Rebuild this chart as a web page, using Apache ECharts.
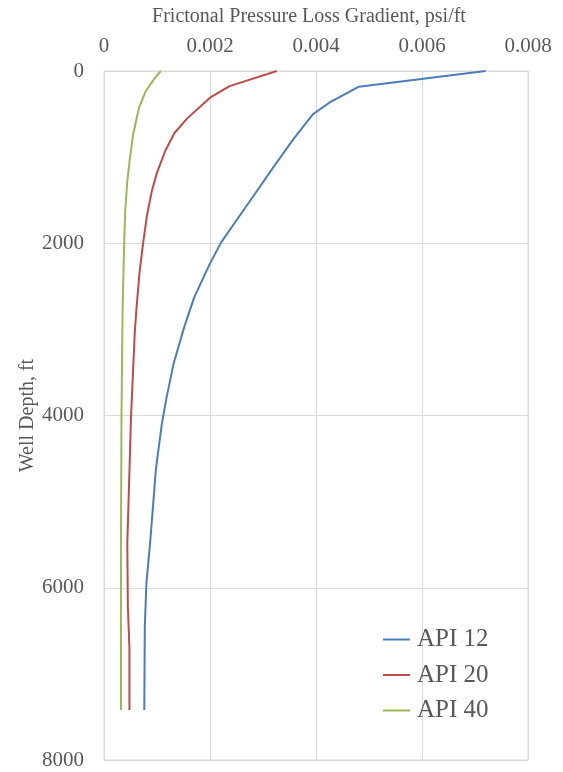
<!DOCTYPE html>
<html>
<head>
<meta charset="utf-8">
<script src="https://cdn.jsdelivr.net/npm/echarts@6/dist/echarts.min.js"></script>
<style>
html,body{margin:0;padding:0;background:#fff;}
#chart{width:563px;height:772px;}
</style>
</head>
<body>
<div id="chart"></div>
<script>
// Data
const seriesNames = ['API 12', 'API 20', 'API 40'];
const api12Depth = [0, 182, 368, 503, 793, 1122, 1451, 1742, 1990, 2260, 2632, 2980, 3406, 3793, 4102, 4620, 5480, 5950, 6450, 7420];
const api12Grad  = [0.0072, 0.00481, 0.00425, 0.00394, 0.00357, 0.00319, 0.00282, 0.00249, 0.00221, 0.00198, 0.00170, 0.00151, 0.00131, 0.00118, 0.00109, 0.00098, 0.00087, 0.00080, 0.00077, 0.00076];
const api20Depth = [0, 176, 310, 550, 720, 920, 1180, 1400, 1680, 1990, 2340, 2780, 3045, 4014, 5480, 6220, 6700, 7420];
const api20Grad  = [0.00326, 0.00237, 0.00200, 0.00157, 0.00133, 0.00116, 0.00100, 0.00090, 0.00081, 0.00074, 0.00067, 0.00061, 0.00058, 0.00051, 0.00044, 0.00045, 0.00048, 0.00048];
const api40Depth = [0, 97, 232, 426, 735, 1006, 1277, 1625, 2012, 2786, 4000, 5500, 7420];
const api40Grad  = [0.00107, 0.00094, 0.00079, 0.00066, 0.00055, 0.00049, 0.00044, 0.00040, 0.00038, 0.00035, 0.00033, 0.00032, 0.00032];
const xTicks = [0, 0.002, 0.004, 0.006, 0.008];
const yTicks = [0, 2000, 4000, 6000, 8000];
const colors = ['#4a7ebb', '#be4b48', '#98b954'];

const pairs = (g, d) => g.map((v, i) => [v, d[i]]);
const seriesData = [pairs(api12Grad, api12Depth), pairs(api20Grad, api20Depth), pairs(api40Grad, api40Depth)];

const font = 'Liberation Serif';
const txt = '#595959';
const chart = echarts.init(document.getElementById('chart'));
chart.setOption({
  animation: false,
  backgroundColor: '#fff',
  title: {
    text: 'Frictonal Pressure Loss Gradient, psi/ft',
    left: 304, top: 2, textAlign: 'center',
    textStyle: {fontFamily: font, fontSize: 20, fontWeight: 'normal', color: txt}
  },
  grid: {left: 104, right: 35, top: 71, bottom: 12, show: true, borderColor: '#d9d9d9', borderWidth: 1},
  legend: {
    orient: 'vertical', left: 378, top: 622, itemGap: 10.5,
    itemWidth: 27, itemHeight: 2, icon: 'rect',
    textStyle: {fontFamily: font, fontSize: 25, color: txt, lineHeight: 25, padding: [0, 0, 0, 2]},
    data: seriesNames
  },
  xAxis: {
    type: 'value', position: 'top', min: xTicks[0], max: xTicks[xTicks.length - 1], interval: xTicks[1] - xTicks[0],
    axisLine: {show: false}, axisTick: {show: false},
    axisLabel: {fontFamily: font, fontSize: 21, color: txt, margin: 14,
      formatter: v => v === 0 ? '0' : v.toFixed(3)},
    splitLine: {lineStyle: {color: '#d9d9d9', width: 1}}
  },
  yAxis: {
    type: 'value', inverse: true, min: yTicks[0], max: yTicks[yTicks.length - 1], interval: yTicks[1] - yTicks[0],
    name: 'Well Depth, ft', nameLocation: 'middle', nameGap: 66, nameRotate: 90, nameMoveOverlap: false,
    nameTextStyle: {fontFamily: font, fontSize: 20, color: txt},
    axisLine: {show: false}, axisTick: {show: false},
    axisLabel: {fontFamily: font, fontSize: 21, color: txt, margin: 20, formatter: v => String(v)},
    splitLine: {lineStyle: {color: '#d9d9d9', width: 1}}
  },
  series: seriesNames.map((n, i) => ({
    name: n, type: 'line', data: seriesData[i], showSymbol: false, symbol: 'none',
    color: colors[i], lineStyle: {color: colors[i], width: 2}
  }))
});
</script>
</body>
</html>
